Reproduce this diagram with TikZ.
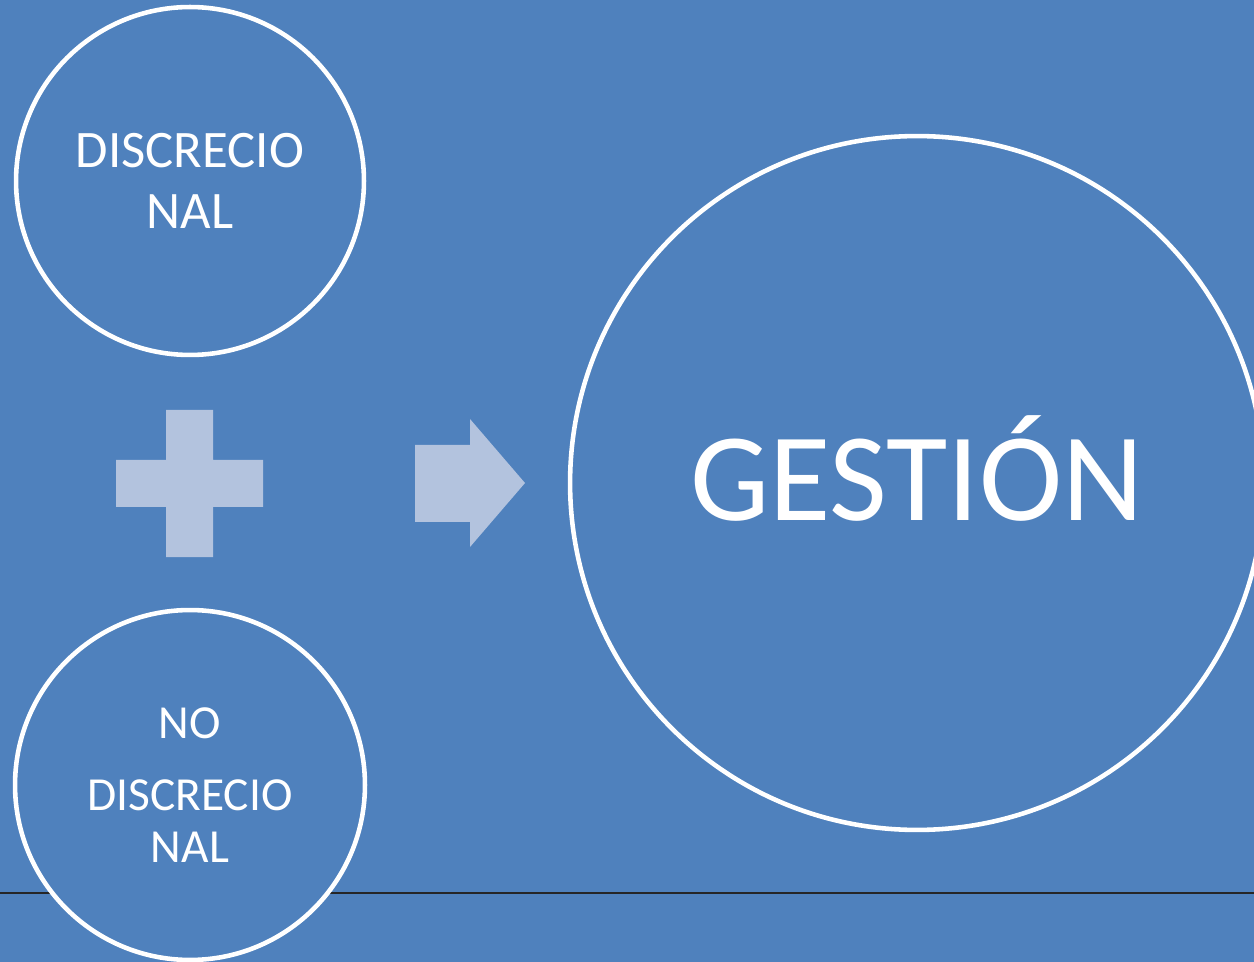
\documentclass[tikz,border=0pt]{standalone}
\usepackage{fontspec}
\setmainfont{Carlito}
\usepackage{xcolor}
\usepackage{tikz}
\definecolor{fondo}{HTML}{4F81BD}
\definecolor{claro}{HTML}{B3C3DE}

\begin{document}
\begin{tikzpicture}[x=0.02cm, y=-0.02cm,
	circulo/.style={circle, draw=white, line width=2.6pt, fill=fondo, text=white, align=center, inner sep=0pt}]
	\fill[fondo] (0,0) rectangle (1254,962);
	\useasboundingbox (0,0) rectangle (1254,962);
	\coordinate (izq) at (0,893);
	\coordinate (der) at (1254,893);
	\draw[black!85, line width=0.6pt] (izq) -- (der);

	\node[circulo, minimum size=6.96cm, font=\fontsize{30}{35}\selectfont] (disc) at (190,181) {DISCRECIO\\NAL};
	\node[circulo, minimum size=7cm, font=\fontsize{27}{30}\selectfont] (nodisc) at (190,785) {NO\\[11pt]DISCRECIO\\NAL};
	\node[circulo, minimum size=13.88cm] (gestion) at (917,483) {};
	\node[text=white, font=\fontsize{71.5}{80}\selectfont] (titulo) at (917,468) {GESTIÓN};

	\fill[claro] (166,410) -| (213,460) -| (263,507) -| (213,557) -| (166,507) -| (116,460) -| cycle;
	\fill[claro] (415,445) -- (470,445) -- (470,419) -- (525,483) -- (470,547) -- (470,522) -- (415,522) -- cycle;
\end{tikzpicture}
\end{document}
